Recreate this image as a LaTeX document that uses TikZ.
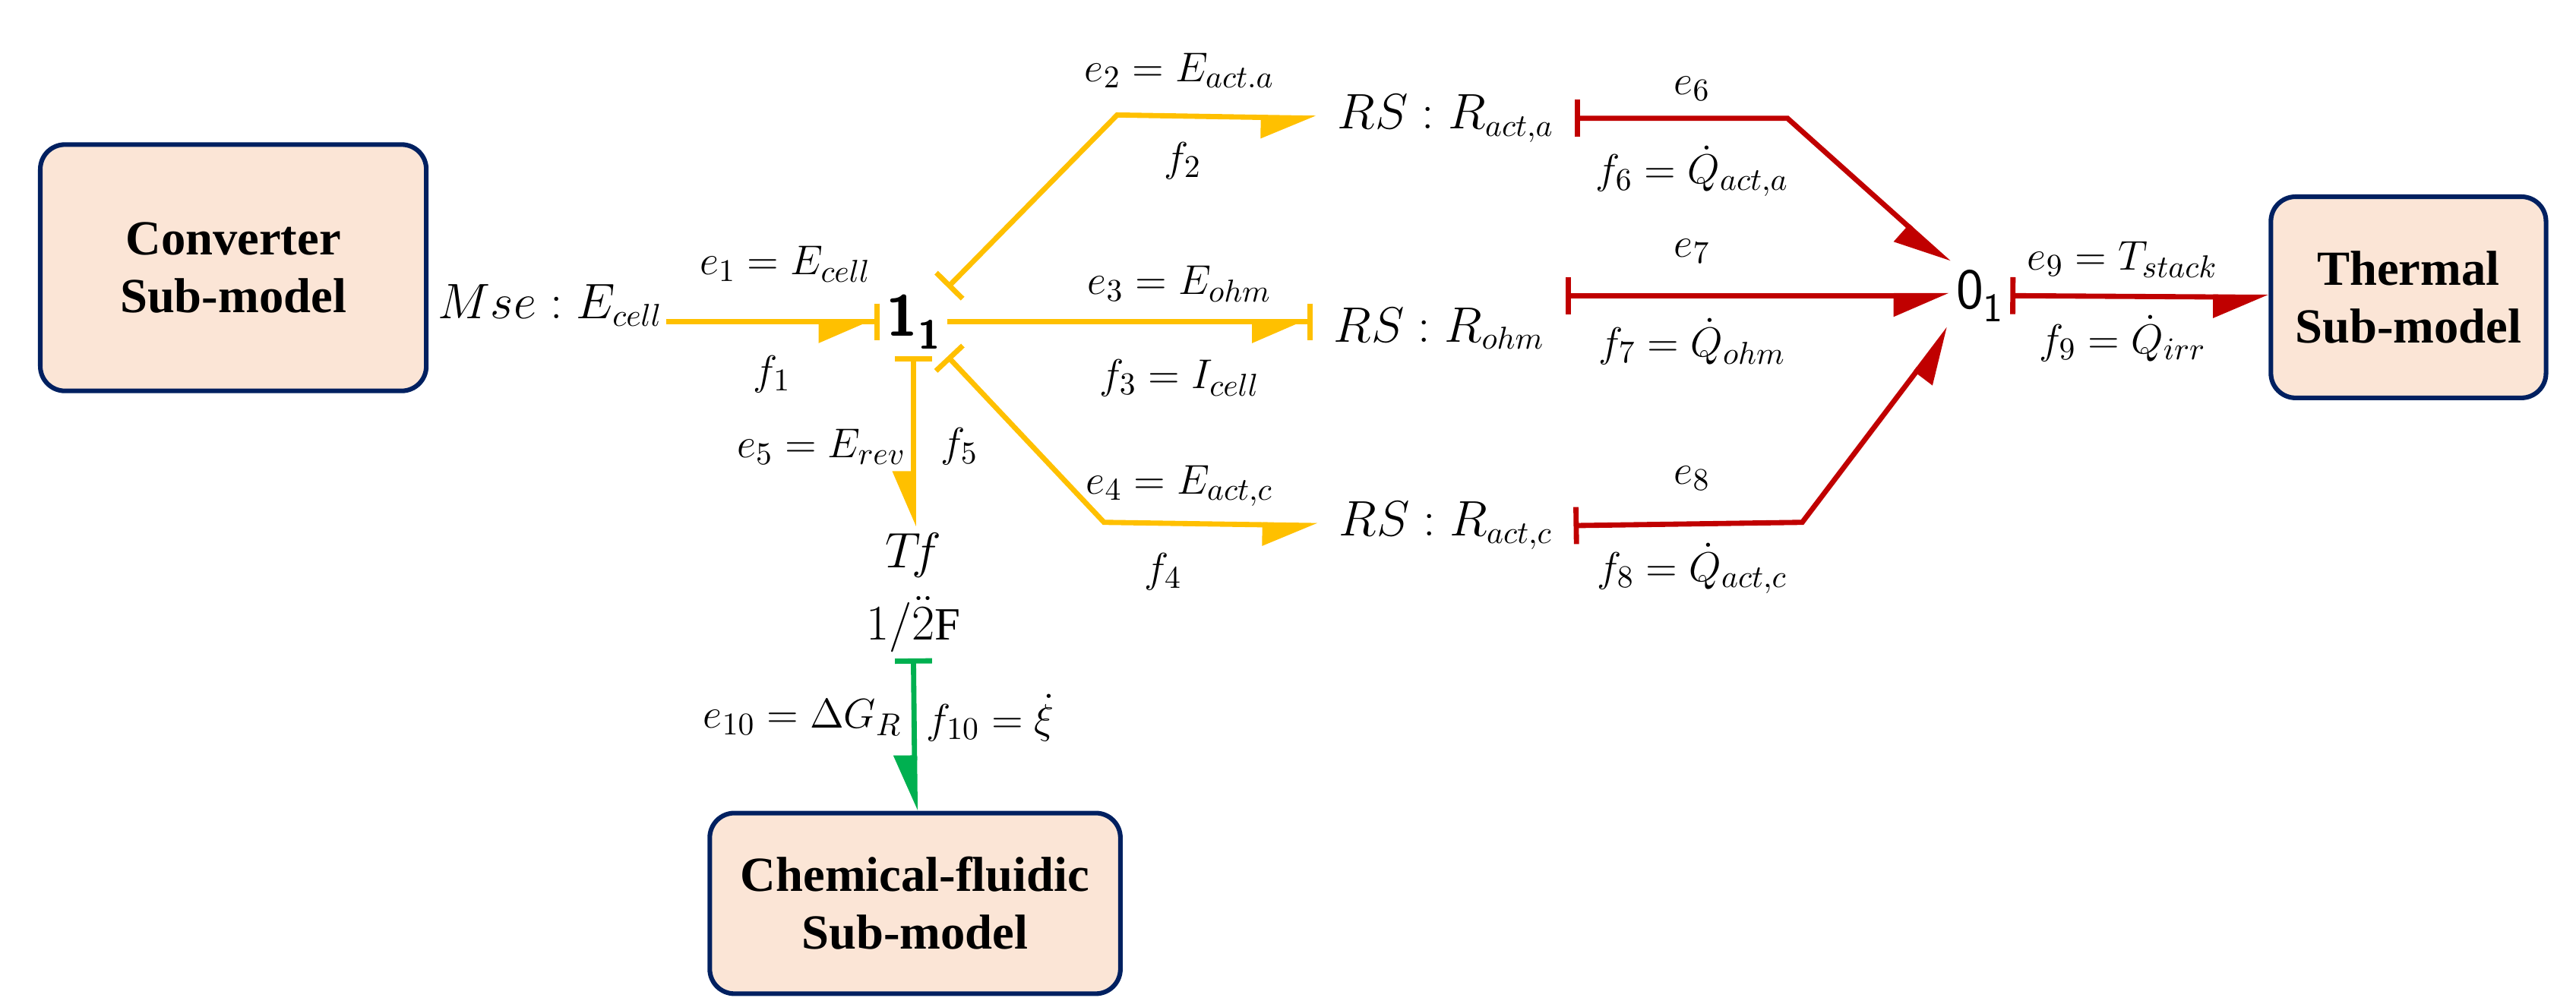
\documentclass[tikz,border=0pt]{standalone}
\usepackage{amsmath}
\usepackage{fontspec}
\setmainfont{Liberation Serif}
\usetikzlibrary{arrows.meta,calc,positioning}
\definecolor{bgold}{HTML}{FFC000}
\definecolor{bred}{HTML}{C00000}
\definecolor{bgreen}{HTML}{00B050}
\definecolor{boxfill}{HTML}{FBE5D6}
\definecolor{boxline}{HTML}{002060}
\tikzset{
  sub/.style={draw=boxline, line width=1.6pt, fill=boxfill, rounded corners=0.3cm, align=center,
    font=\fontsize{17}{20}\selectfont\bfseries},
  lbl/.style={font=\fontsize{15}{17}\selectfont, inner sep=1pt},
  elem/.style={font=\fontsize{16}{18}\selectfont, inner xsep=0.25cm},
  jct/.style={font=\fontsize{20}{22}\sffamily\selectfont, inner sep=0.08cm},
  half/.tip={Triangle[harpoon,swap,length=0.6cm,width=0.5cm]},
  stroke/.tip={Bar[width=0.45cm]},
  bond/.style={line width=1.8pt, {stroke}-{half}},
  bondc/.style={line width=1.8pt, -{half[sep=0pt]stroke}}
}
\begin{document}
\begin{tikzpicture}[x=0.02cm,y=-0.02cm]
  \useasboundingbox (0,0) rectangle (1568,609);
  % sub-models
  \node [sub, minimum width=4.7cm, minimum height=3cm] (conv) at (142,163) {Converter\\Sub-model};
  \node [sub, minimum width=3.35cm, minimum height=2.45cm] (therm) at (1466,181) {Thermal\\Sub-model};
  \node [sub, minimum width=5cm, minimum height=2.2cm] (chem) at (557,550) {Chemical-fluidic\\Sub-model};
  % elements
  \node [lbl, font=\fontsize{16}{18}\selectfont] (mse) at (335,186) {$Mse:E_{cell}$};
  \node [jct] (one) at (556,196) {\bfseries 1\raisebox{-0.5ex}{\fontsize{14}{16}\selectfont 1}};
  \node [jct] (zero) at (1205,180) {0\raisebox{-0.5ex}{\fontsize{14}{16}\selectfont 1}};
  \node [elem] (rsa) at (880,72) {$RS:R_{act,a}$};
  \node [elem] (rso) at (876,200) {$RS:R_{ohm}$};
  \node [elem] (rsc) at (880,320) {$RS:R_{act,c}$};
  \node [elem, inner sep=2pt] (tf) at (556,338) {$T\!f$};
  \node [elem, inner sep=2pt] (tfm) at (556,380) {$1/\ddot{2}$F};
  \coordinate (ca) at (680,70);
  \coordinate (cc) at (672,318);
  \coordinate (ra) at (1088,72);
  \coordinate (rc) at (1097,318);
  % yellow bonds
  \draw [bondc, bgold] (mse.east |- one) -- (one.west);
  \draw [bond, bgold] (one.north east) -- (ca) -- (rsa.west);
  \draw [bondc, bgold] (one.east) -- (one.east -| rso.west);
  \draw [bond, bgold] (one.south east) -- (cc) -- (rsc.west);
  \draw [bond, bgold] (one.south) -- (tf.north);
  % green bond
  \draw [bond, bgreen] (tfm.south) -- (chem.north);
  % red bonds
  \draw [bond, bred] (rsa.east) -- (ra) -- (zero.north west);
  \draw [bond, bred] (rso.east |- zero) -- (zero.west);
  \draw [bond, bred] (rsc.east) -- (rc) -- (zero.south west);
  \draw [bond, bred] (zero.east) -- (therm.west);
  % efforts and flows
  \node [lbl] (e1) at (478,161) {$e_1 = E_{cell}$};
  \node [lbl] (f1) at (470,228) {$f_1$};
  \node [lbl] (e2) at (718,43) {$e_2 = E_{act.a}$};
  \node [lbl] (f2) at (720,98) {$f_2$};
  \node [lbl] (e3) at (718,173) {$e_3 = E_{ohm}$};
  \node [lbl] (f3) at (718,230) {$f_3 = I_{cell}$};
  \node [lbl] (e4) at (718,296) {$e_4 = E_{act,c}$};
  \node [lbl] (f4) at (708,348) {$f_4$};
  \node [lbl] (e5) at (500,272) {$e_5 = E_{rev}$};
  \node [lbl] (f5) at (584,272) {$f_5$};
  \node [lbl] (e6) at (1030,54) {$e_6$};
  \node [lbl] (f6) at (1030,104) {$f_6 = \dot{Q}_{act,a}$};
  \node [lbl] (e7) at (1030,153) {$e_7$};
  \node [lbl] (f7) at (1030,208) {$f_7 = \dot{Q}_{ohm}$};
  \node [lbl] (e8) at (1030,291) {$e_8$};
  \node [lbl] (f8) at (1030,346) {$f_8 = \dot{Q}_{act,c}$};
  \node [lbl] (e9) at (1292,158) {$e_9 = T_{stack}$};
  \node [lbl] (f9) at (1292,206) {$f_9 = \dot{Q}_{irr}$};
  \node [lbl, anchor=east] (e10) at (551,437) {$e_{10} = \Delta G_R$};
  \node [lbl, anchor=west] (f10) at (562,437) {$f_{10} = \dot{\xi}$};
\end{tikzpicture}
\end{document}
